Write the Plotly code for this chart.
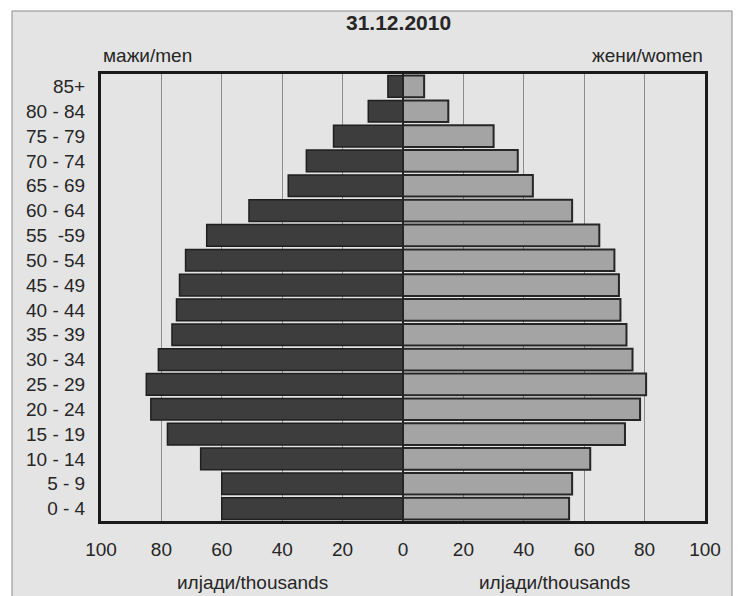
import plotly.graph_objects as go

age_groups = ["0 - 4", "5 - 9", "10 - 14", "15 - 19", "20 - 24", "25 - 29", "30 - 34",
              "35 - 39", "40 - 44", "45 - 49", "50 - 54", "55\u00a0\u00a0-59", "60 - 64",
              "65 - 69", "70 - 74", "75 - 79", "80 - 84", "85+"]
men = [60, 60, 67, 78, 83.5, 85, 81, 76.5, 75, 74, 72, 65, 51, 38, 32, 23, 11.5, 5]
women = [55, 56, 62, 73.5, 78.5, 80.5, 76, 74, 72, 71.5, 70, 65, 56, 43, 38, 30, 15, 7]
tick_vals = [-100, -80, -60, -40, -20, 0, 20, 40, 60, 80, 100]
tick_text = ["100", "80", "60", "40", "20", "0", "20", "40", "60", "80", "100"]

FONT = "Liberation Sans, Arial, Helvetica, sans-serif"
TXT = "#262626"

fig = go.Figure()
fig.add_trace(go.Bar(
    y=age_groups, x=[-v for v in men], orientation="h", name="мажи/men",
    marker=dict(color="#3d3d3d", line=dict(color="#1f1f1f", width=1.5)),
    hoverinfo="skip"))
fig.add_trace(go.Bar(
    y=age_groups, x=women, orientation="h", name="жени/women",
    marker=dict(color="#a4a4a4", line=dict(color="#262626", width=2)),
    hoverinfo="skip"))

L, R, T, B = 101, 35, 74, 75
W, H = 740, 596
pw, ph = W - L - R, H - T - B

def px(x):
    return (x - L) / pw

def py(y):
    return (H - B - y) / ph

fig.update_layout(
    width=W, height=H,
    margin=dict(l=L, r=R, t=T, b=B, pad=0),
    paper_bgcolor="white",
    plot_bgcolor="white",
    barmode="overlay",
    bargap=0.13,
    showlegend=False,
    font=dict(family=FONT, size=19, color=TXT),
    xaxis=dict(range=[-100, 100], tickvals=tick_vals, ticktext=tick_text,
               showgrid=True, gridcolor="#8c8c8c", gridwidth=1,
               zeroline=True, zerolinecolor="#222222", zerolinewidth=2,
               showline=True, linecolor="#1a1a1a", linewidth=3, mirror=True,
               ticks="", ticklabelstandoff=9,
               tickfont=dict(family=FONT, size=19, color=TXT), fixedrange=True),
    yaxis=dict(categoryorder="array", categoryarray=age_groups,
               range=[-0.5, len(age_groups) - 0.5],
               showgrid=False, showline=True, linecolor="#1a1a1a", linewidth=3, mirror=True,
               ticks="", ticklabelstandoff=9,
               tickfont=dict(family=FONT, size=19, color=TXT), fixedrange=True),
    shapes=[dict(type="rect", xref="paper", yref="paper",
                 x0=px(12), x1=px(732), y0=py(620), y1=py(11),
                 fillcolor="#e4e4e4", line=dict(color="#8a8a8a", width=1),
                 layer="below")],
    annotations=[
        dict(text="<b>31.12.2010</b>", xref="paper", yref="paper", x=px(398.5), y=py(22.5),
             xanchor="center", yanchor="middle", showarrow=False,
             font=dict(family=FONT, size=21, color=TXT)),
        dict(text="мажи/men", xref="paper", yref="paper", x=px(101), y=py(55),
             xanchor="left", yanchor="middle", showarrow=False,
             font=dict(family=FONT, size=19, color=TXT)),
        dict(text="жени/women", xref="paper", yref="paper", x=px(705), y=py(55),
             xanchor="right", yanchor="middle", showarrow=False,
             font=dict(family=FONT, size=19, color=TXT)),
        dict(text="илјади/thousands", xref="x", yref="paper", x=-50, y=py(582),
             xanchor="center", yanchor="middle", showarrow=False,
             font=dict(family=FONT, size=19, color=TXT)),
        dict(text="илјади/thousands", xref="x", yref="paper", x=50, y=py(582),
             xanchor="center", yanchor="middle", showarrow=False,
             font=dict(family=FONT, size=19, color=TXT)),
    ],
)

fig.write_html("out.html", config={"displayModeBar": False},
               post_script="document.body.style.margin='0';document.body.style.padding='0';")
